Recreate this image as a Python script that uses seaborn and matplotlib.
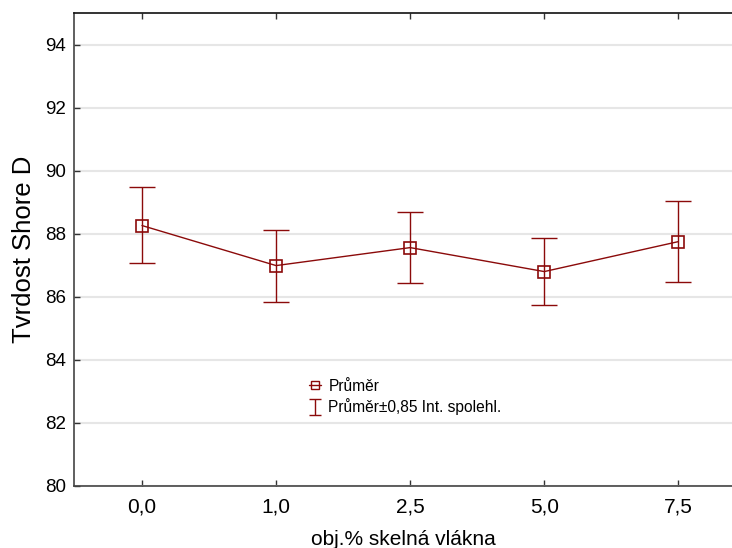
import numpy as np
import pandas as pd
import seaborn as sns
import matplotlib
matplotlib.use("Agg")
import matplotlib.pyplot as plt
from matplotlib.lines import Line2D

categories = ["0,0", "1,0", "2,5", "5,0", "7,5"]
means = [88.26, 86.99, 87.56, 86.80, 87.75]
upper = [89.49, 88.12, 88.68, 87.87, 89.03]
lower = [87.06, 85.85, 86.45, 85.75, 86.47]
yticks = [80, 82, 84, 86, 88, 90, 92, 94]

color = "#8b0a0a"

sns.set_theme(style="white")
plt.rcParams["font.family"] = ["Liberation Sans", "DejaVu Sans"]
plt.rcParams["text.color"] = "black"
plt.rcParams["axes.labelcolor"] = "black"
plt.rcParams["xtick.color"] = "black"
plt.rcParams["ytick.color"] = "black"

fig = plt.figure(figsize=(7.32, 5.48), dpi=100)
ax = fig.add_axes([74 / 732, 62 / 548, 1 - 74 / 732, (486 - 13) / 548])

df = pd.DataFrame({"pos": np.arange(len(categories)), "mean": means})
sns.lineplot(data=df, x="pos", y="mean", ax=ax, color=color, linewidth=1.0,
             marker="s", markersize=8, markerfacecolor="none",
             markeredgecolor=color, markeredgewidth=1.2, zorder=3)

m = np.array(means)
yerr = np.vstack([m - np.array(lower), np.array(upper) - m])
ax.errorbar(df["pos"], m, yerr=yerr, fmt="none", ecolor=color,
            elinewidth=1.0, capsize=9.5, capthick=1.0, zorder=2)

ax.set_xlim(-0.507, 4.40)
ax.set_ylim(80, 95)
ax.set_yticks(yticks)
ax.set_yticklabels([str(v) for v in yticks], fontsize=13.5, color="black")
ax.set_xticks(df["pos"])
ax.set_xticklabels(categories, fontsize=15, color="black")
ax.yaxis.grid(True, color="#e6e6e6", linewidth=1.5)
ax.xaxis.grid(False)
ax.set_axisbelow(True)

ax.tick_params(axis="both", direction="in", length=4, width=1, color="#333333")
ax.tick_params(axis="x", top=True, bottom=True, pad=8)
ax.tick_params(axis="y", left=True, pad=6)

for s in ["left", "bottom"]:
    ax.spines[s].set_color("#444444")
    ax.spines[s].set_linewidth(1.2)
ax.spines["top"].set_color("#111111")
ax.spines["top"].set_linewidth(1.2)
ax.spines["right"].set_visible(False)

ax.set_xlabel("obj.% skelná vlákna", fontsize=15, labelpad=10, color="black")
ax.set_ylabel("Tvrdost Shore D", fontsize=18.5, labelpad=6, color="black")

# legend
h1 = Line2D([], [], color=color, marker="s", markersize=6, markerfacecolor="none",
            markeredgecolor=color, linewidth=1.0)
eb = ax.errorbar([np.nan], [np.nan], yerr=[[1]], fmt="none", ecolor=color,
                 elinewidth=1.0, capsize=4, capthick=1.0)
leg = ax.legend([h1, eb], ["Průměr", "Průměr±0,85 Int. spolehl."],
                loc="upper left", bbox_to_anchor=((298 - 74) / 658, (486 - 368) / 473),
                frameon=False, fontsize=11.2, handlelength=0.8, handletextpad=0.45,
                labelspacing=0.28, borderpad=0.2)
for t in leg.get_texts():
    t.set_color("black")

fig.savefig("out.png", dpi=100)
